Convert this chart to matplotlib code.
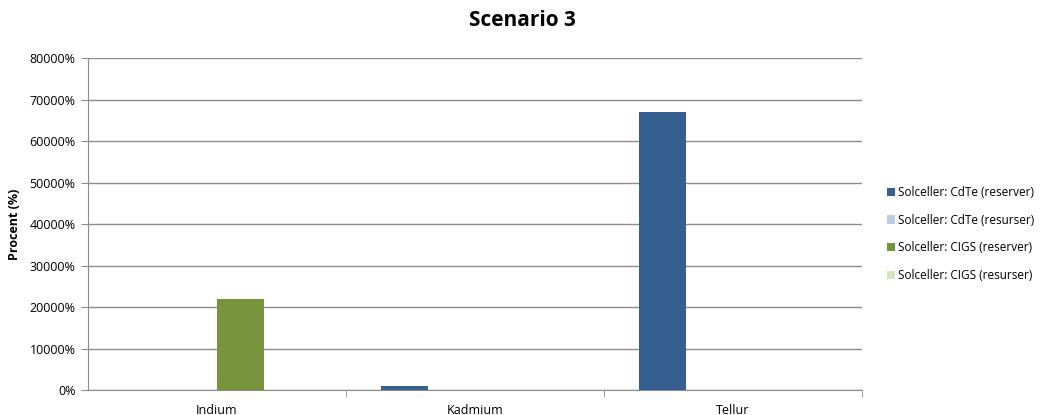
import numpy as np
import matplotlib.pyplot as plt
from matplotlib.ticker import FuncFormatter, FixedLocator

plt.rcParams['font.family'] = ['Open Sans', 'DejaVu Sans']

categories = ['Indium', 'Kadmium', 'Tellur']
series = ['Solceller: CdTe (reserver)', 'Solceller: CdTe (resurser)',
          'Solceller: CIGS (reserver)', 'Solceller: CIGS (resurser)']
cdte_reserver = [0, 1000, 67000]
cdte_resurser = [0, 0, 0]
cigs_reserver = [22000, 0, 0]
cigs_resurser = [0, 0, 0]
colors = ['#365F91', '#B9CDE5', '#77933C', '#D7E4BD']

values = [cdte_reserver, cdte_resurser, cigs_reserver, cigs_resurser]

fig = plt.figure(figsize=(10.44, 4.15), dpi=100)
ax = fig.add_axes([0.0843, 0.060, 0.7414, 0.800])

x = np.arange(len(categories))
w = 0.182
for i, (vals, name, c) in enumerate(zip(values, series, colors)):
    ax.bar(x + (i - 2) * w, vals, width=w, align='edge', color=c, label=name, zorder=3)

ax.set_xlim(-0.5, 2.5)
ax.set_ylim(0, 80000)
ax.set_yticks(np.arange(0, 80001, 10000))
ax.yaxis.set_major_formatter(FuncFormatter(lambda v, p: f'{int(v)}%'))
ax.grid(axis='y', color='#8c8c8c', linewidth=1, zorder=0)

ax.set_xticks(x)
ax.set_xticklabels(categories)
ax.xaxis.set_minor_locator(FixedLocator([0.5, 1.5, 2.5]))
ax.tick_params(axis='x', which='major', length=0, pad=10, labelsize=9)
ax.tick_params(axis='x', which='minor', length=5, color='#8c8c8c', direction='out')
ax.tick_params(axis='y', length=5, color='#8c8c8c', direction='out', labelsize=9, pad=4)

for s in ['top', 'right']:
    ax.spines[s].set_visible(False)
ax.spines['left'].set_color('#8c8c8c')
ax.spines['bottom'].set_color('#8c8c8c')

ax.set_ylabel('Procent (%)', fontsize=9, fontweight='bold', labelpad=6)
fig.suptitle('Scenario 3', fontsize=15, fontweight='bold', y=0.975)

ax.legend(loc='center left', bbox_to_anchor=(1.018, 0.47), frameon=False,
          fontsize=8.5, handlelength=0.7, handleheight=0.7, handletextpad=0.3,
          labelspacing=1.25)

fig.savefig('out.png', dpi=100)
